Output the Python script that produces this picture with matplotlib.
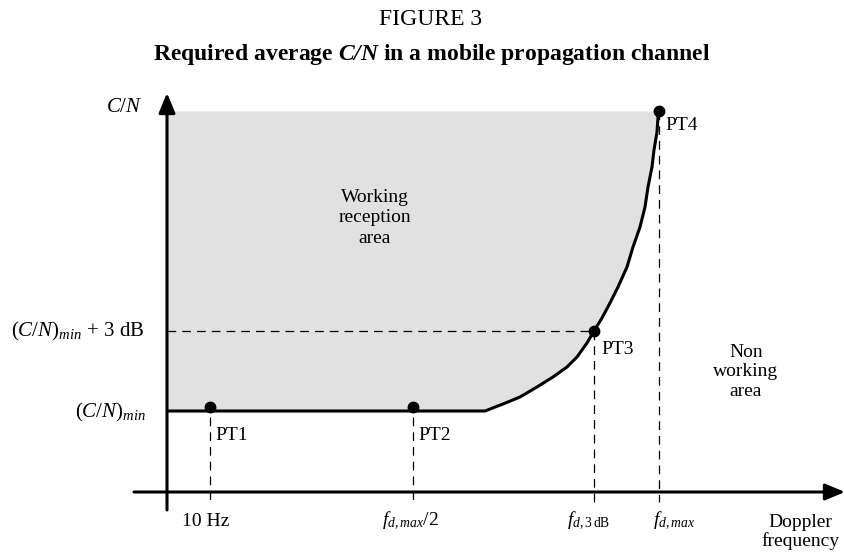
import matplotlib
matplotlib.use('Agg')
import matplotlib.pyplot as plt

plt.rcParams['font.family'] = ['Liberation Serif', 'DejaVu Serif']
plt.rcParams['mathtext.fontset'] = 'custom'
plt.rcParams['mathtext.rm'] = 'Liberation Serif'
plt.rcParams['mathtext.it'] = 'Liberation Serif:italic'
plt.rcParams['mathtext.bf'] = 'Liberation Serif:bold'
plt.rcParams['mathtext.bfit'] = 'Liberation Serif:italic:bold'

# schematic values (arbitrary units, origin where the two axes cross)
freq_ticks = [43, 246, 427, 492]
freq_labels = ['10 Hz', r'$f_{d,max}/2$', r'$f_{d,3\,\mathrm{dB}}$', r'$f_{d,max}$']
cn_levels = [81, 161, 381]
cn_labels = [r'$(C/N)_{min}$', r'$(C/N)_{min}$ + 3 dB', r'$C/N$']

# required C/N curve
curve_x = [0, 43, 246, 318, 336, 353, 370, 386, 400, 410, 420, 427, 435, 443, 451,
           460, 466, 473, 478, 481, 485, 487, 490, 491, 492]
curve_y = [81, 81, 81, 81, 88, 95, 105, 115, 125, 135, 149, 161, 174, 189, 205,
           225, 245, 265, 285, 305, 325, 342, 360, 375, 381]

point_names = ['PT1', 'PT2', 'PT3', 'PT4']
point_x = [43, 246, 427, 492]
point_y = [81, 81, 161, 381]

fig = plt.figure(figsize=(8.45, 5.58), dpi=100)
ax = fig.add_axes([0, 0, 1, 1])
ax.set_xlim(-167, 678)
ax.set_ylim(-66, 492)
ax.axis('off')

# working area shading
ax.fill_between(curve_x, curve_y, cn_levels[2], color='#e1e1e1', lw=0, zorder=1)

# axes with arrow heads
arrow = dict(arrowstyle='-|>,head_length=0.6,head_width=0.25', lw=2.2, color='black',
             mutation_scale=20, shrinkA=0, shrinkB=0)
ax.annotate('', xy=(0, 399), xytext=(0, -18), arrowprops=arrow, zorder=5)
ax.annotate('', xy=(678, 0), xytext=(-33, 0), arrowprops=arrow, zorder=5)

# dashed guide lines
dash = dict(color='black', lw=0.9, linestyle=(0, (7, 4.8)), zorder=2)
ax.plot([0, point_x[2]], [point_y[2], point_y[2]], **dash)
for i, (px, py) in enumerate(zip(point_x, point_y)):
    top = py - 6 if i < 2 else py
    ax.plot([px, px], [top, -10], **dash)

# curve and points
ax.plot(curve_x, curve_y, color='black', lw=2.2, solid_capstyle='butt',
        solid_joinstyle='round', zorder=4)
ax.plot(point_x[:2], [y + 4 for y in point_y[:2]], 'o', color='black', ms=7.5, zorder=6)
ax.plot(point_x[2:], point_y[2:], 'o', color='black', ms=7.5, zorder=6)

fs = 14
label_off = [(5, -24), (5, -24), (7, -19), (6, -15)]
for name, px, py, (dx, dy) in zip(point_names, point_x, point_y, label_off):
    ax.text(px + dx, py + dy, name, fontsize=fs, ha='left', va='center')

# y labels
y_off = [(-21, -1), (-23, 0), (-24, 3)]
for lvl, lab, (dx, dy) in zip(cn_levels, cn_labels, y_off):
    ax.text(dx, lvl + dy, lab, fontsize=15, ha='right', va='center')

# x labels
x_off = [-4, -3, -5, 15]
for t, lab, dx in zip(freq_ticks, freq_labels, x_off):
    ax.text(t + dx, -29, lab, fontsize=fs, ha='center', va='center')
ax.text(633, -40, 'Doppler\nfrequency', fontsize=fs, ha='center', va='center', linespacing=1.1)

ax.text(208, 274, 'Working\nreception\narea', fontsize=fs, ha='center', va='center', linespacing=1.25)
ax.text(579, 120, 'Non\nworking\narea', fontsize=fs, ha='center', va='center', linespacing=1.22)

fig.text(0.51, 1 - 25 / 558, 'FIGURE 3', fontsize=17, ha='center', va='baseline')
fig.text(0.511, 1 - 60 / 558, r'Required average $\mathbfit{C/N}$ in a mobile propagation channel',
         fontsize=17, fontweight='bold', ha='center', va='baseline')

fig.savefig('out.png', dpi=100)
